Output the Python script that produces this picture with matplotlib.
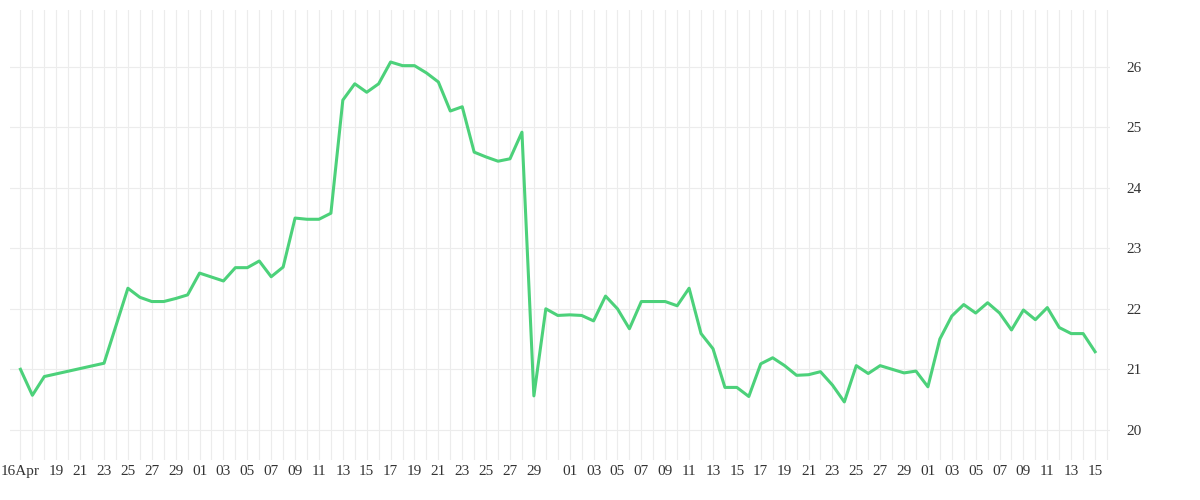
import matplotlib
matplotlib.use('Agg')
import matplotlib.pyplot as plt
import matplotlib.dates as mdates
import numpy as np
import datetime as dt

dates = ['2024-04-16','2024-04-17','2024-04-18','2024-04-23','2024-04-25','2024-04-26','2024-04-27',
         '2024-04-28','2024-04-29','2024-04-30','2024-05-01','2024-05-03','2024-05-04','2024-05-05',
         '2024-05-06','2024-05-07','2024-05-08','2024-05-09','2024-05-10','2024-05-11','2024-05-12',
         '2024-05-13','2024-05-14','2024-05-15','2024-05-16','2024-05-17','2024-05-18','2024-05-19',
         '2024-05-20','2024-05-21','2024-05-22','2024-05-23','2024-05-24','2024-05-25','2024-05-26',
         '2024-05-27','2024-05-28','2024-05-29','2024-05-30','2024-05-31','2024-06-01','2024-06-02',
         '2024-06-03','2024-06-04','2024-06-05','2024-06-06','2024-06-07','2024-06-08','2024-06-09',
         '2024-06-10','2024-06-11','2024-06-12','2024-06-13','2024-06-14','2024-06-15','2024-06-16',
         '2024-06-17','2024-06-18','2024-06-19','2024-06-20','2024-06-21','2024-06-22','2024-06-23',
         '2024-06-24','2024-06-25','2024-06-26','2024-06-27','2024-06-28','2024-06-29','2024-06-30',
         '2024-07-01','2024-07-02','2024-07-03','2024-07-04','2024-07-05','2024-07-06','2024-07-07',
         '2024-07-08','2024-07-09','2024-07-10','2024-07-11','2024-07-12','2024-07-13','2024-07-14',
         '2024-07-15']
values = [21.0, 20.57, 20.88, 21.1, 22.34, 22.19, 22.12,
          22.12, 22.17, 22.23, 22.59, 22.46, 22.68, 22.68,
          22.79, 22.53, 22.69, 23.5, 23.48, 23.48, 23.58,
          25.45, 25.72, 25.58, 25.72, 26.08, 26.02, 26.02,
          25.9, 25.75, 25.27, 25.34, 24.59, 24.51, 24.44,
          24.48, 24.92, 20.56, 22.0, 21.89, 21.9, 21.89,
          21.8, 22.21, 22.0, 21.67, 22.12, 22.12, 22.12,
          22.05, 22.34, 21.59, 21.34, 20.7, 20.7, 20.55,
          21.09, 21.19, 21.06, 20.9, 20.91, 20.96, 20.74,
          20.46, 21.06, 20.93, 21.06, 21.0, 20.94, 20.97,
          20.71, 21.5, 21.88, 22.07, 21.93, 22.1, 21.93,
          21.65, 21.98, 21.82, 22.02, 21.69, 21.59, 21.59,
          21.29]

x = [dt.datetime.strptime(d, '%Y-%m-%d') for d in dates]

fig = plt.figure(figsize=(12, 5), dpi=100)
ax = fig.add_axes([10/1200, 40/500, 1100/1200, 450/500])
ax.plot(x, values, color='#4cd17a', lw=2.2)

ax.set_xlim(dt.datetime(2024, 4, 15, 3), dt.datetime(2024, 7, 16, 6))
ax.set_ylim(19.5, 26.94)
ax.yaxis.tick_right()
ax.set_yticks([20, 21, 22, 23, 24, 25, 26])
ax.xaxis.set_minor_locator(mdates.DayLocator())
ticks = [d for d in mdates.drange(dt.datetime(2024, 4, 16), dt.datetime(2024, 7, 16), dt.timedelta(days=1))
         if mdates.num2date(d).day % 2 == 1 or mdates.num2date(d).day == 16 and mdates.num2date(d).month == 4]
ticks = [t for t in ticks if not (mdates.num2date(t).month == 4 and mdates.num2date(t).day == 17)
         and mdates.num2date(t).day != 31]
ax.set_xticks(ticks)
labels = []
for t in ticks:
    d = mdates.num2date(t)
    labels.append('16Apr' if (d.month == 4 and d.day == 16) else '%02d' % d.day)
ax.set_xticklabels(labels)
ax.grid(True, which='both', color='#ececec', lw=0.8)
ax.set_axisbelow(True)
for s in ax.spines.values():
    s.set_visible(False)
ax.tick_params(which='both', length=0, labelsize=11, colors='#333333')
for lab in ax.get_xticklabels() + ax.get_yticklabels():
    lab.set_family('Liberation Serif')
ax.tick_params(axis='y', pad=12)

fig.savefig('out.png')
